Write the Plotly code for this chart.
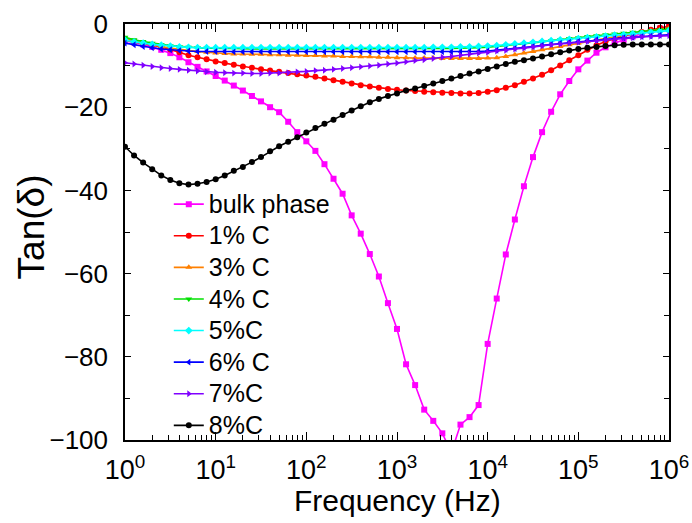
import plotly.graph_objects as go

# log10 of frequency (Hz) sampling grid: 10 points per decade, 10^0 .. 10^6
log_freq = [0.0, 0.1, 0.2, 0.3, 0.4, 0.5, 0.6, 0.7, 0.8, 0.9,
            1.0, 1.1, 1.2, 1.3, 1.4, 1.5, 1.6, 1.7, 1.8, 1.9,
            2.0, 2.1, 2.2, 2.3, 2.4, 2.5, 2.6, 2.7, 2.8, 2.9,
            3.0, 3.1, 3.2, 3.3, 3.4, 3.5, 3.6, 3.7, 3.8, 3.9,
            4.0, 4.1, 4.2, 4.3, 4.4, 4.5, 4.6, 4.7, 4.8, 4.9,
            5.0, 5.1, 5.2, 5.3, 5.4, 5.5, 5.6, 5.7, 5.8, 5.9, 6.0]
freq = [10 ** e for e in log_freq]

bulk = [-4.0, -4.4, -4.9, -5.5, -6.2, -7.0, -8.0, -9.2, -10.3, -11.4,
        -12.5, -13.6, -14.8, -16.0, -17.3, -18.6, -20.0, -21.2, -23.5, -26.0,
        -28.2, -30.5, -33.7, -37.2, -40.8, -46.0, -50.4, -55.3, -60.7, -67.1,
        -73.3, -81.8, -86.8, -92.7, -95.4, -98.4, -103.0, -96.3, -94.5, -91.6,
        -76.9, -66.0, -55.4, -47.0, -39.0, -32.0, -26.0, -21.1, -16.9, -13.7,
        -10.9, -8.8, -6.9, -5.6, -4.6, -3.8, -3.0, -2.3, -1.7, -1.1, -0.6]
c1 = [-3.8, -4.2, -4.6, -5.0, -5.5, -6.1, -6.8, -7.5, -8.0, -8.5,
      -9.0, -9.4, -9.8, -10.2, -10.5, -10.9, -11.2, -11.5, -11.8, -12.1,
      -12.4, -12.7, -13.1, -13.5, -13.9, -14.3, -14.7, -15.0, -15.3, -15.6,
      -15.8, -16.0, -16.1, -16.3, -16.4, -16.5, -16.6, -16.7, -16.7, -16.6,
      -16.3, -15.9, -15.3, -14.7, -13.9, -13.1, -12.2, -11.1, -10.0, -8.7,
      -7.5, -6.2, -5.1, -4.2, -3.5, -2.9, -2.4, -1.9, -1.4, -0.9, -0.5]
c3 = [-3.5, -4.0, -4.5, -5.0, -5.4, -5.8, -6.1, -6.4, -6.6, -6.8,
      -7.0, -7.1, -7.2, -7.2, -7.3, -7.3, -7.4, -7.4, -7.5, -7.5,
      -7.6, -7.6, -7.7, -7.7, -7.8, -7.8, -7.9, -7.9, -8.0, -8.0,
      -8.1, -8.1, -8.2, -8.2, -8.2, -8.3, -8.3, -8.3, -8.3, -8.3,
      -8.2, -8.1, -7.8, -7.4, -7.0, -6.6, -6.2, -5.8, -5.4, -5.0,
      -4.6, -4.2, -3.8, -3.4, -3.0, -2.7, -2.3, -2.0, -1.6, -1.3, -1.0]
c4 = [-3.2, -3.8, -4.2, -4.6, -4.9, -5.2, -5.4, -5.6, -5.7, -5.8,
      -5.9, -5.9, -5.9, -6.0, -6.0, -6.0, -6.0, -6.0, -6.0, -6.0,
      -6.0, -6.0, -6.0, -6.0, -6.0, -6.0, -6.0, -6.0, -6.0, -6.0,
      -6.0, -6.0, -6.0, -6.0, -5.9, -5.9, -5.9, -5.8, -5.8, -5.7,
      -5.6, -5.4, -5.2, -5.0, -4.8, -4.5, -4.3, -4.0, -3.8, -3.5,
      -3.3, -3.0, -2.8, -2.6, -2.4, -2.2, -2.0, -1.8, -1.6, -1.4, -1.2]
c5 = [-3.9, -4.3, -4.6, -4.9, -5.1, -5.3, -5.5, -5.6, -5.7, -5.7,
      -5.7, -5.7, -5.7, -5.7, -5.7, -5.7, -5.7, -5.7, -5.7, -5.7,
      -5.7, -5.7, -5.7, -5.7, -5.7, -5.7, -5.7, -5.7, -5.7, -5.7,
      -5.7, -5.7, -5.7, -5.7, -5.6, -5.6, -5.6, -5.5, -5.5, -5.4,
      -5.3, -5.2, -5.0, -4.8, -4.6, -4.4, -4.2, -4.0, -3.8, -3.7,
      -3.5, -3.3, -3.1, -2.9, -2.7, -2.6, -2.4, -2.2, -2.0, -1.8, -1.6]
c6 = [-4.6, -5.0, -5.4, -5.7, -6.0, -6.2, -6.4, -6.5, -6.6, -6.6,
      -6.6, -6.6, -6.7, -6.7, -6.7, -6.7, -6.7, -6.7, -6.7, -6.7,
      -6.7, -6.7, -6.7, -6.7, -6.7, -6.7, -6.7, -6.7, -6.7, -6.7,
      -6.7, -6.7, -6.7, -6.7, -6.7, -6.7, -6.7, -6.7, -6.6, -6.6,
      -6.5, -6.3, -6.1, -5.9, -5.6, -5.4, -5.1, -4.9, -4.6, -4.4,
      -4.2, -4.0, -3.8, -3.6, -3.5, -3.3, -3.2, -3.0, -2.9, -2.7, -2.6]
c7 = [-9.3, -9.6, -9.9, -10.2, -10.5, -10.7, -10.9, -11.1, -11.3, -11.5,
      -11.6, -11.7, -11.8, -11.8, -11.9, -11.9, -11.8, -11.8, -11.7, -11.5,
      -11.4, -11.2, -11.1, -10.9, -10.7, -10.5, -10.3, -10.1, -9.9, -9.6,
      -9.4, -9.1, -8.8, -8.6, -8.3, -8.0, -7.8, -7.5, -7.2, -7.0,
      -6.8, -6.5, -6.3, -6.0, -5.8, -5.5, -5.3, -5.0, -4.8, -4.6,
      -4.4, -4.2, -4.0, -3.8, -3.6, -3.4, -3.3, -3.1, -3.0, -2.9, -2.8]
c8 = [-29.5, -31.6, -33.3, -34.9, -36.4, -37.5, -38.3, -38.6, -38.4, -38.0,
      -37.3, -36.4, -35.3, -34.4, -33.2, -32.0, -30.6, -29.4, -28.3, -27.2,
      -26.1, -25.0, -24.0, -23.0, -21.9, -20.8, -19.8, -18.8, -18.0, -17.3,
      -16.7, -16.0, -15.5, -14.9, -14.3, -13.7, -13.1, -12.5, -11.9, -11.4,
      -10.8, -10.2, -9.6, -9.1, -8.7, -8.3, -7.8, -7.3, -6.8, -6.4,
      -6.0, -5.7, -5.5, -5.3, -5.1, -5.0, -4.9, -4.9, -4.9, -4.9, -4.9]

series_names = ["bulk phase", "1% C", "3% C", "4% C", "5%C", "6% C", "7%C", "8%C"]
series_values = [bulk, c1, c3, c4, c5, c6, c7, c8]
series_colors = ["#FF00FF", "#FF0000", "#FF8000", "#00E000", "#00FFFF", "#0000FF", "#8000FF", "#000000"]
series_symbols = ["square", "circle", "triangle-up", "triangle-down", "diamond",
                  "triangle-left", "triangle-right", "circle"]

x_tickvals = [1, 10, 100, 1000, 10000, 100000, 1000000]
x_ticktext = ["10<sup>0</sup>", "10<sup>1</sup>", "10<sup>2</sup>", "10<sup>3</sup>",
              "10<sup>4</sup>", "10<sup>5</sup>", "10<sup>6</sup>"]
x_minor = [m * 10 ** k for k in range(6) for m in range(2, 10)]
y_tickvals = [0, -20, -40, -60, -80, -100]
y_ticktext = ["0", "\u221220", "\u221240", "\u221260", "\u221280", "\u2212100"]
y_minor = [-10, -30, -50, -70, -90]
x_title = "Frequency (Hz)"
y_title = "Tan(δ)"

FONT = "Arial, Liberation Sans, sans-serif"

fig = go.Figure()
for name, vals, col, sym in zip(series_names, series_values, series_colors, series_symbols):
    fig.add_trace(go.Scatter(
        x=freq, y=vals, name="<span style='font-size:25px'>" + name + "</span>",
        mode="lines+markers",
        line=dict(color=col, width=1.6),
        marker=dict(color=col, symbol=sym, size=6, line=dict(width=0)),
    ))

fig.update_layout(
    width=692, height=523,
    margin=dict(l=125, r=23, t=24, b=83),
    paper_bgcolor="white", plot_bgcolor="white",
    font=dict(family=FONT, color="black"),
    showlegend=True,
    legend=dict(
        x=0.0805, y=0.617, xanchor="left", yanchor="top",
        bgcolor="rgba(0,0,0,0)", borderwidth=0,
        font=dict(size=22, family=FONT, color="black"),
        tracegroupgap=0,
    ),
    annotations=[
        dict(text=x_title, xref="paper", yref="paper", x=0.5, y=-0.146,
             xanchor="center", yanchor="middle", showarrow=False,
             font=dict(size=30, family=FONT, color="black")),
        dict(text=y_title, xref="paper", yref="paper", x=-0.172, y=0.512,
             xanchor="center", yanchor="middle", showarrow=False, textangle=-90,
             font=dict(size=37, family=FONT, color="black")),
    ],
)
fig.update_xaxes(
    type="log", range=[0, 6], automargin=False,
    tickmode="array", tickvals=x_tickvals, ticktext=x_ticktext,
    tickfont=dict(size=27, family=FONT, color="black"),
    ticklabelstandoff=5,
    ticks="inside", ticklen=8, tickwidth=1.3, tickcolor="black",
    minor=dict(tickmode="array", tickvals=x_minor, ticks="inside", ticklen=5,
               tickwidth=1.2, tickcolor="black", showgrid=False),
    showline=True, linecolor="black", linewidth=1.5, mirror="allticks",
    showgrid=False, zeroline=False,
)
fig.update_yaxes(
    range=[-100, 0], automargin=False,
    tickmode="array", tickvals=y_tickvals, ticktext=y_ticktext,
    tickfont=dict(size=26, family=FONT, color="black"),
    ticklabelstandoff=10,
    ticks="inside", ticklen=6, tickwidth=1.3, tickcolor="black",
    minor=dict(tickmode="array", tickvals=y_minor, ticks="inside", ticklen=5,
               tickwidth=1.2, tickcolor="black", showgrid=False),
    showline=True, linecolor="black", linewidth=1.5, mirror="allticks",
    showgrid=False, zeroline=False,
)

fig.write_html("out.html", config={"displayModeBar": False},
               post_script="document.body.style.margin='0';")
